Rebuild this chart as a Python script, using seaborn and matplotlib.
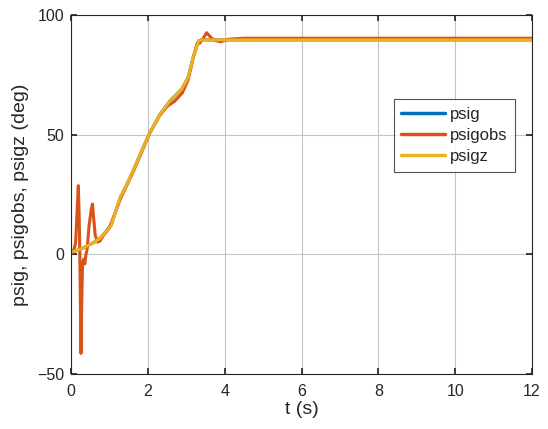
import numpy as np
import pandas as pd
import matplotlib
matplotlib.use("Agg")
import matplotlib.pyplot as plt
import seaborn as sns

# heading traces (t in s, angle in deg)
t_psig = [0, 0.3, 0.6, 0.75, 0.9, 1.05, 1.28, 1.45, 1.62, 1.88, 2.06, 2.32, 2.58,
          2.88, 3.05, 3.18, 3.32, 3.4, 4, 6, 8, 10, 12]
psig = [0.8, 2.5, 5.0, 6.6, 9.3, 12.5, 23.5, 29.0, 35.0, 44.7, 51.0, 58.6, 64.2,
        69.0, 73.9, 82.2, 89.2, 89.6, 89.6, 89.6, 89.6, 89.6, 89.6]

t_obs = [0, 0.08, 0.12, 0.15, 0.19, 0.21, 0.23, 0.26, 0.28, 0.30, 0.33, 0.36, 0.39,
         0.42, 0.47, 0.53, 0.56, 0.59, 0.63, 0.69, 0.75, 0.85, 1.0, 1.28, 1.62,
         1.9, 2.06, 2.3, 2.5, 2.7, 2.9, 3.05, 3.18, 3.28, 3.35, 3.45, 3.53, 3.62,
         3.72, 3.9, 4.1, 4.5, 6, 8, 10, 12]
psigobs = [1.0, 2.0, 5.0, 15.0, 28.7, 18.0, 0.0, -41.4, -20.0, -4.0, -2.0, -4.0, 0.0,
           2.0, 12.0, 19.0, 21.0, 15.0, 8.0, 5.1, 5.5, 8.0, 11.0, 23.0, 34.5,
           45.0, 51.0, 57.8, 61.8, 64.0, 67.5, 73.0, 82.0, 88.0, 88.2, 90.5, 92.6, 91.0,
           89.5, 88.8, 89.9, 90.3, 90.3, 90.3, 90.3, 90.3]

t_z = [0, 0.3, 0.6, 0.75, 0.9, 1.05, 1.28, 1.45, 1.62, 1.88, 2.06, 2.32, 2.58,
       2.88, 3.05, 3.18, 3.32, 3.4, 4, 6, 8, 10, 12]
psigz = [0.8, 2.5, 5.0, 6.6, 9.3, 12.0, 23.9, 29.0, 35.0, 44.7, 51.0, 58.6, 64.2,
         69.0, 73.9, 82.2, 89.2, 89.6, 89.6, 89.6, 89.6, 89.6, 89.6]

names = ["psig", "psigobs", "psigz"]
colors = ["#0072BD", "#D95319", "#EDB120"]

df = pd.concat([
    pd.DataFrame({"t": t_psig, "val": psig, "series": "psig"}),
    pd.DataFrame({"t": t_obs, "val": psigobs, "series": "psigobs"}),
    pd.DataFrame({"t": t_z, "val": psigz, "series": "psigz"}),
], ignore_index=True)

sns.set_theme(style="whitegrid")
plt.rcParams["font.family"] = ["Liberation Sans", "DejaVu Sans"]

fig = plt.figure(figsize=(5.48, 4.29), dpi=100)
ax = fig.add_axes([71 / 548, 1 - 374 / 429, 461 / 548, 359 / 429])

sns.lineplot(data=df, x="t", y="val", hue="series", hue_order=names,
             palette=dict(zip(names, colors)), sort=False, estimator=None,
             linewidth=2.2, ax=ax)

ax.set_xlim(0, 12)
ax.set_ylim(-50, 100)
ax.set_xticks(range(0, 13, 2))
ax.set_yticks([-50, 0, 50, 100])
ax.grid(True, color="#c4c4c4", linewidth=0.8)
for s in ax.spines.values():
    s.set_visible(True)
    s.set_color("#262626")
    s.set_linewidth(0.8)
ax.tick_params(direction="in", length=4, colors="#262626", labelsize=11.5,
               top=True, right=True, bottom=True, left=True)
ax.tick_params(axis="x", pad=7)
ax.tick_params(axis="y", pad=5)
ax.set_xlabel("t (s)", fontsize=14, color="#262626", labelpad=2)
ax.set_ylabel("psig, psigobs, psigz (deg)", fontsize=14, color="#262626", labelpad=6)

leg = ax.legend(loc="upper left", bbox_to_anchor=(0.70, 0.766), fontsize=12,
                frameon=True, fancybox=False, borderpad=0.45, handlelength=2.6,
                labelspacing=0.38, handletextpad=0.3, borderaxespad=0)
leg.get_frame().set_edgecolor("#262626")
leg.get_frame().set_linewidth(0.8)
for line in leg.get_lines():
    line.set_linewidth(2.5)

fig.savefig("out.png", dpi=100)
